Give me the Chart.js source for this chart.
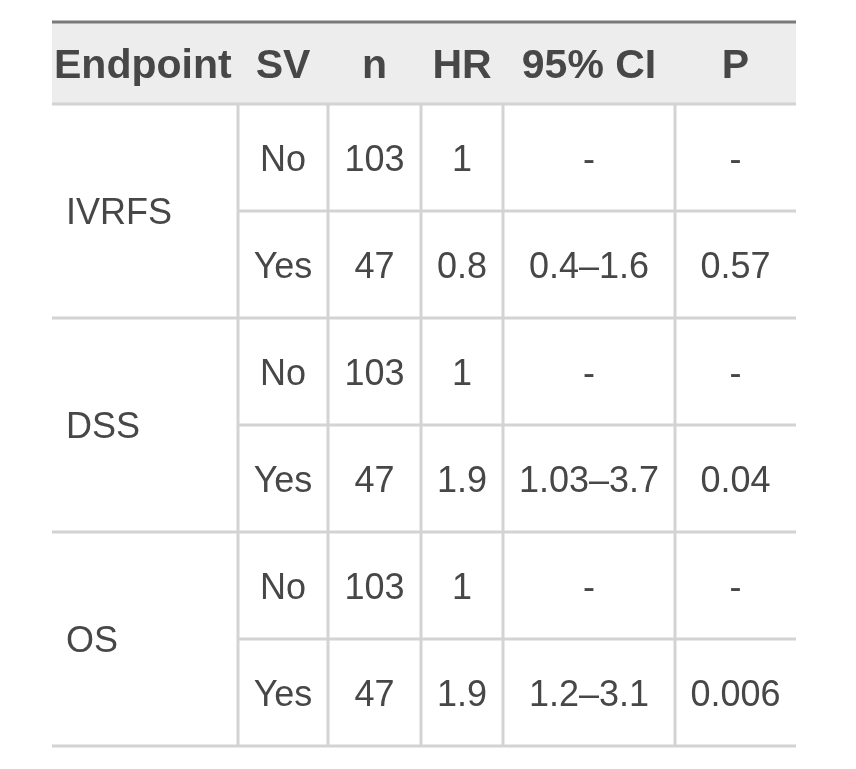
<!DOCTYPE html>
<html>
<head>
<meta charset="utf-8">
<script src="https://cdn.jsdelivr.net/npm/chart.js@4.4.1/dist/chart.umd.min.js"></script>
<style>
  html, body { margin: 0; padding: 0; background: #ffffff; }
  canvas { display: block; }
</style>
</head>
<body>
<canvas id="svTable" width="856" height="769"></canvas>
<script>
// Table values
const headers = ['Endpoint', 'SV', 'n', 'HR', '95% CI', 'P'];
const endpoints = ['IVRFS', 'DSS', 'OS'];
const svLevels = ['No', 'Yes'];
const nValues = ['103', '47', '103', '47', '103', '47'];
const hrValues = ['1', '0.8', '1', '1.9', '1', '1.9'];
const ciValues = ['-', '0.4–1.6', '-', '1.03–3.7', '-', '1.2–3.1'];
const pValues = ['-', '0.57', '-', '0.04', '-', '0.006'];

// layout (scale units = px inside the table box)
const colWidths = [186, 90, 93, 82, 172, 121];
const headerH = 82;
const rowH = 107;

const colEdges = [0];
colWidths.forEach(w => colEdges.push(colEdges[colEdges.length - 1] + w));
const totalW = colEdges[colEdges.length - 1];
const totalH = headerH + rowH * endpoints.length * svLevels.length;
const rowTop = i => headerH + rowH * i;
const colMid = c => (colEdges[c] + colEdges[c + 1]) / 2;

// one point per cell
const cells = [];
headers.forEach((h, c) => {
    cells.push({ x: c === 0 ? 2 : colMid(c), y: headerH / 2, text: h, head: true, left: c === 0 });
});
endpoints.forEach((ep, g) => {
    const top = rowTop(g * svLevels.length);
    cells.push({ x: 14, y: top + rowH, text: ep, left: true });
    svLevels.forEach((sv, k) => {
        const r = g * svLevels.length + k;
        const cy = rowTop(r) + rowH / 2;
        [sv, nValues[r], hrValues[r], ciValues[r], pValues[r]].forEach((t, j) => {
            cells.push({ x: colMid(j + 1), y: cy, text: t });
        });
    });
});

const tablePlugin = {
    id: 'tablePlugin',
    beforeDatasetsDraw(chart) {
        const { ctx, scales: { x, y } } = chart;
        const px = v => x.getPixelForValue(v);
        const py = v => y.getPixelForValue(v);
        ctx.save();
        // header band
        ctx.fillStyle = '#ededed';
        ctx.fillRect(px(0), py(0), px(totalW) - px(0), py(headerH) - py(0));

        ctx.strokeStyle = '#d3d3d3';
        ctx.lineWidth = 3;
        ctx.beginPath();
        // vertical rules in the body
        for (let c = 1; c < colEdges.length - 1; c++) {
            ctx.moveTo(px(colEdges[c]), py(headerH));
            ctx.lineTo(px(colEdges[c]), py(totalH));
        }
        // horizontal rules
        const nRows = endpoints.length * svLevels.length;
        for (let r = 0; r <= nRows; r++) {
            const startX = (r % svLevels.length === 0) ? 0 : colEdges[1];
            ctx.moveTo(px(startX), py(rowTop(r)));
            ctx.lineTo(px(totalW), py(rowTop(r)));
        }
        ctx.stroke();

        // top border
        ctx.strokeStyle = '#7a7a7a';
        ctx.beginPath();
        ctx.moveTo(px(0), py(0));
        ctx.lineTo(px(totalW), py(0));
        ctx.stroke();
        ctx.restore();
    },
    afterDatasetsDraw(chart) {
        const { ctx } = chart;
        const meta = chart.getDatasetMeta(0);
        ctx.save();
        meta.data.forEach((pt, i) => {
            const cell = cells[i];
            const size = cell.head ? 41 : 36;
            ctx.font = (cell.head ? 'bold ' : '') + size + 'px "Liberation Sans", Arial, sans-serif';
            ctx.fillStyle = '#474747';
            ctx.textAlign = cell.left ? 'left' : 'center';
            ctx.textBaseline = 'alphabetic';
            ctx.fillText(cell.text, pt.x, pt.y + size * 0.37);
        });
        ctx.restore();
    }
};

new Chart(document.getElementById('svTable').getContext('2d'), {
    type: 'scatter',
    data: {
        datasets: [{
            data: cells.map(c => ({ x: c.x, y: c.y })),
            pointRadius: 0,
            pointHoverRadius: 0
        }]
    },
    options: {
        responsive: false,
        animation: false,
        events: [],
        layout: {
            autoPadding: false,
            padding: { left: 52, right: 856 - 52 - 744, top: 22, bottom: 769 - 22 - 724 }
        },
        plugins: {
            legend: { display: false },
            tooltip: { enabled: false }
        },
        scales: {
            x: { type: 'linear', display: false, min: 0, max: totalW },
            y: { type: 'linear', display: false, min: 0, max: totalH, reverse: true }
        }
    },
    plugins: [tablePlugin]
});
</script>
</body>
</html>
